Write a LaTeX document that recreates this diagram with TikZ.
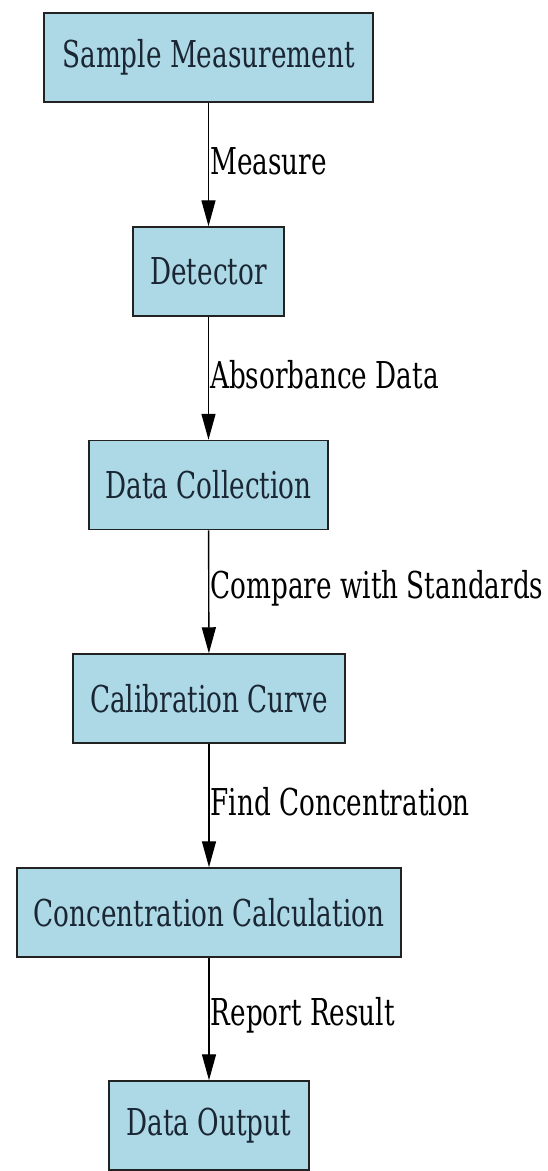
\documentclass[tikz,border=0pt]{standalone}
\usepackage{fontspec}
\newfontfamily\dvs[FakeStretch=0.71]{DejaVu Serif}
\usetikzlibrary{arrows.meta}
\definecolor{boxblue}{HTML}{ADD8E6}
\definecolor{boxline}{HTML}{222222}
\definecolor{boxtext}{HTML}{1A2633}
\begin{document}
\begin{tikzpicture}[x=1pt,y=-1pt,
  box/.style={draw=boxline, line width=1.5pt, fill=boxblue, inner sep=0pt,
    minimum height=89pt, font=\dvs\fontsize{37}{40}\selectfont, text=boxtext},
  lbl/.style={anchor=west, inner sep=1pt, font=\dvs\fontsize{37}{40}\selectfont},
  conn/.style={-{Triangle[length=26pt,width=14pt]}, line width=1.4pt}]
\useasboundingbox[fill=white] (0,0) rectangle (548,1171);
\node[box, minimum width=329pt] (sm) at (208.5,57.5) {Sample Measurement};
\node[box, minimum width=151pt] (det) at (208.5,271.5) {Detector};
\node[box, minimum width=239pt] (dc) at (208.5,485) {Data Collection};
\node[box, minimum width=272pt] (cc) at (209,698.5) {Calibration Curve};
\node[box, minimum width=384pt] (ccalc) at (209,912.5) {Concentration Calculation};
\node[box, minimum width=200pt] (out) at (209,1125.5) {Data Output};
\draw[conn] (sm) -- node[lbl, pos=0.47] {Measure} (det);
\draw[conn] (det) -- node[lbl, pos=0.47] {Absorbance Data} (dc);
\draw[conn] (dc) -- node[lbl, pos=0.47] {Compare with Standards} (cc);
\draw[conn] (cc) -- node[lbl, pos=0.47] {Find Concentration} (ccalc);
\draw[conn] (ccalc) -- node[lbl, pos=0.47] {Report Result} (out);
\end{tikzpicture}
\end{document}
